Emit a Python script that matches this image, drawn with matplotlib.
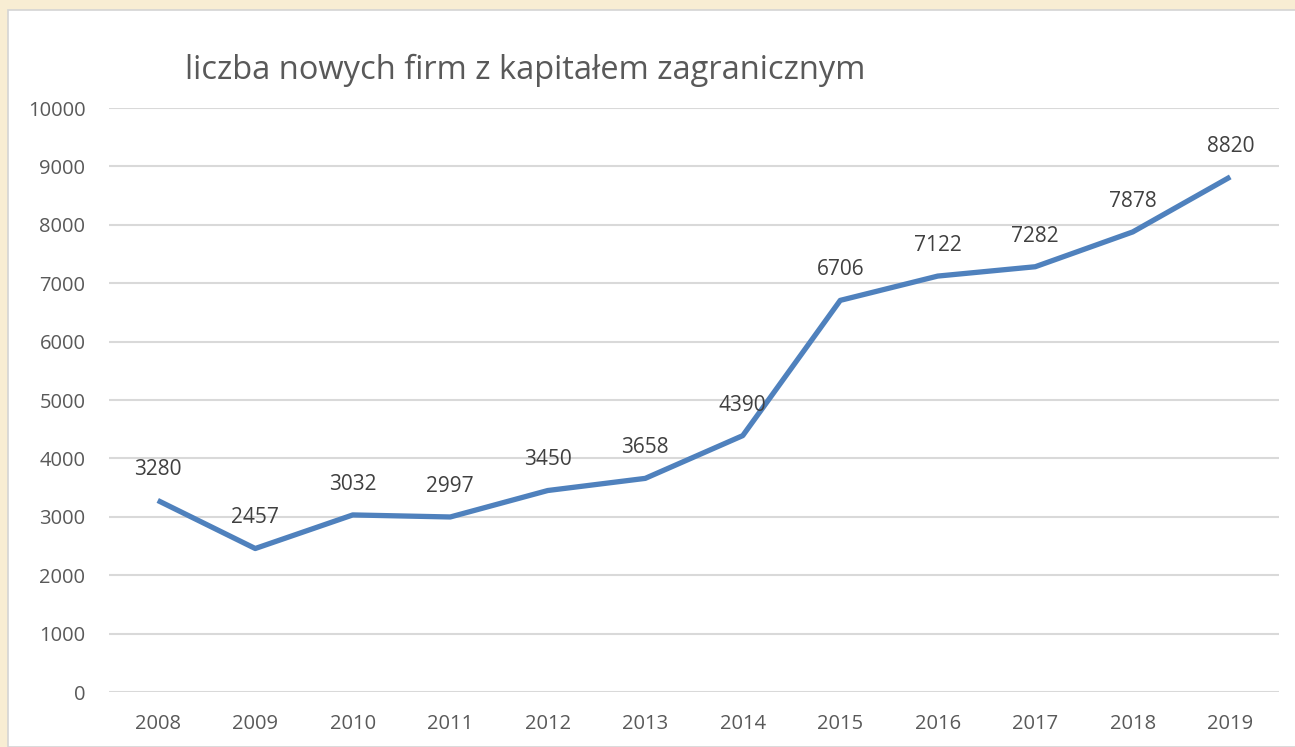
import matplotlib.pyplot as plt
from matplotlib.patches import Rectangle

# Chart data
years = ['2008', '2009', '2010', '2011', '2012', '2013',
         '2014', '2015', '2016', '2017', '2018', '2019']
firms = [3280, 2457, 3032, 2997, 3450, 3658, 4390, 6706, 7122, 7282, 7878, 8820]
title = 'liczba nowych firm z kapitałem zagranicznym'

plt.rcParams['font.family'] = ['Open Sans', 'DejaVu Sans']

W, H = 1295, 747
fig = plt.figure(figsize=(W / 100, H / 100), dpi=100)
fig.patch.set_facecolor('#F8EDD3')

# white chart area with thin grey edge, kept behind the axes
fig.patches.append(Rectangle((8 / W, 0), 1, 1 - 10 / H, transform=fig.transFigure,
                             facecolor='white', edgecolor='#D4D4D4', linewidth=1.2,
                             zorder=-5))

ax = fig.add_axes([109 / W, 1 - 692 / H, (1279 - 109) / W, (692 - 108) / H])
ax.set_facecolor('none')

x = list(range(len(years)))
ax.plot(x, firms, color='#4F81BD', linewidth=3.8, solid_joinstyle='round',
        solid_capstyle='butt', zorder=3)

for xi, v in zip(x, firms):
    ax.annotate(str(v), (xi, v), xytext=(0, 22), textcoords='offset points',
                ha='center', va='center', fontsize=15, color='#404040', zorder=4)

ax.set_xlim(-0.5, len(years) - 0.5)
ax.set_ylim(0, 10000)
ax.set_yticks(range(0, 10001, 1000))
ax.set_xticks(x)
ax.set_xticklabels(years)
ax.grid(axis='y', color='#D9D9D9', linewidth=1.5)
ax.set_axisbelow(True)
for s in ax.spines.values():
    s.set_visible(False)
ax.tick_params(length=0, labelsize=14.5, labelcolor='#595959')
ax.tick_params(axis='y', pad=17)
ax.tick_params(axis='x', pad=15.5)

fig.text(185 / W, 1 - 70 / H, title, fontsize=23.5, color='#595959',
         ha='left', va='center')

plt.savefig('out.png', dpi=100, facecolor=fig.get_facecolor())
